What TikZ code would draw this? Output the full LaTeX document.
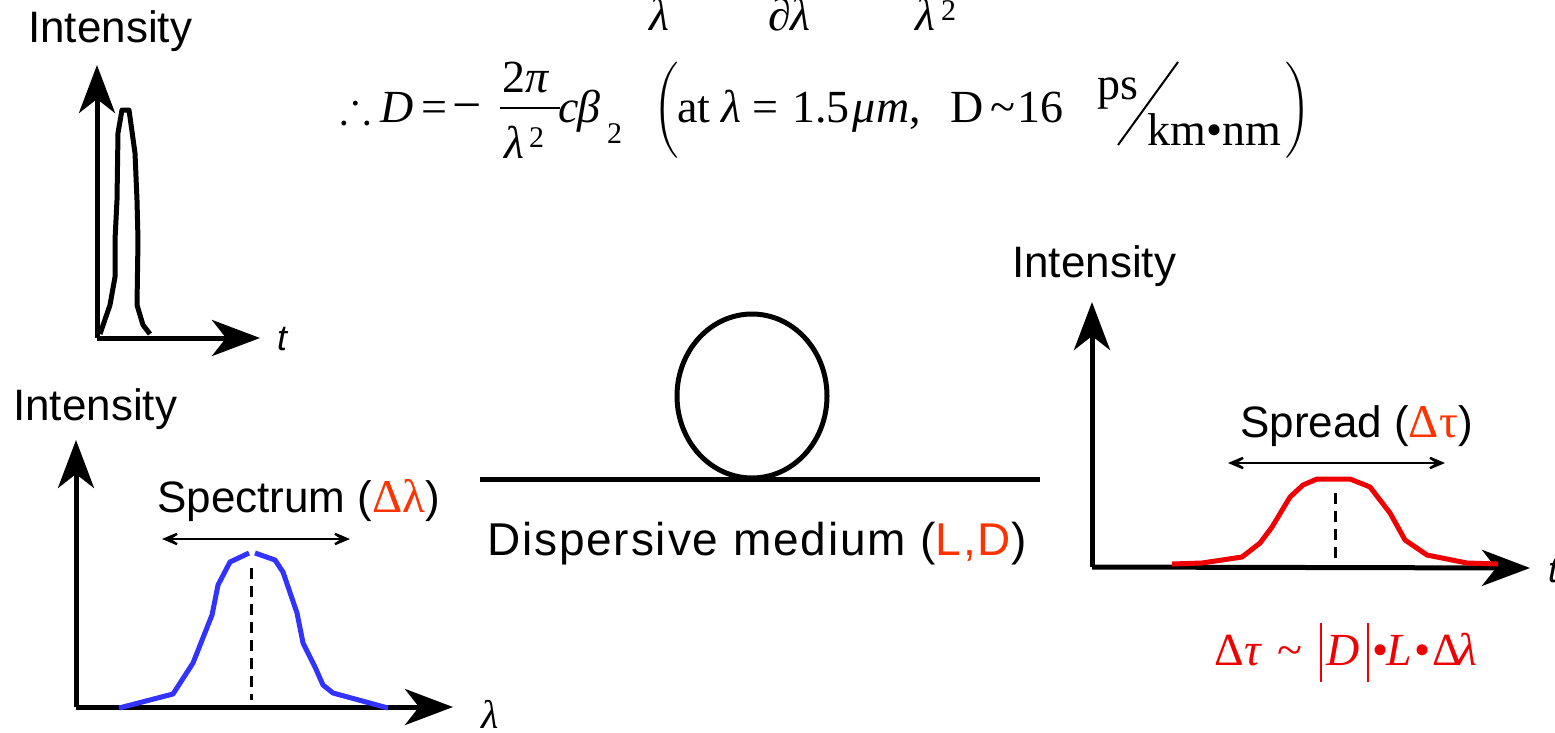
\documentclass[tikz,border=0pt]{standalone}
\usepackage{amssymb}
\usepackage{fontspec}
\setmainfont{Liberation Serif}
\setsansfont{Liberation Sans}
\newfontfamily\medfont[LetterSpace=4]{Liberation Sans}
\usetikzlibrary{arrows.meta}
\definecolor{lblred}{RGB}{255,51,0}
\definecolor{eqred}{RGB}{240,0,0}
\definecolor{pulseblue}{RGB}{51,51,255}
\newcommand{\fs}[1]{\fontsize{#1}{#1}\selectfont}
\begin{document}
\begin{tikzpicture}[x=1pt,y=-1pt,
  axisline/.style={line width=5pt,-{Stealth[length=48pt,width=36pt,inset=14pt]}},
  spanarrow/.style={line width=2.5pt,{Stealth[length=27pt,width=23pt,inset=18pt]}-{Stealth[length=27pt,width=23pt,inset=18pt]}},
  lbl/.style={inner sep=0pt,anchor=base west,font=\sffamily\fs{44}},
  axlbl/.style={inner sep=0pt,anchor=base west,font=\sffamily\itshape\fs{36}},
  eq/.style={inner sep=0pt,anchor=base west,font=\rmfamily\fs{46}},
  eqsup/.style={inner sep=0pt,anchor=base west,font=\rmfamily\fs{30}},
  curve/.style={line width=5pt,line join=round},
  midline/.style={line width=3pt,dash pattern=on 11pt off 7pt},
  bigparen/.style={inner sep=0pt,font=\fs{32}},
]
\useasboundingbox (0,0) rectangle (1555,732);
\clip (0,0) rectangle (1555,732);

% ---------- top-left: short pulse in time ----------
\node[lbl] (int1) at (28,42) {Intensity};
\coordinate (o1) at (97,338);
\coordinate (y1) at (97,65);
\coordinate (x1) at (260,338);
\draw[axisline] (o1) -- (y1);
\draw[axisline] (o1) -- (x1);
\node[axlbl] (t1) at (277,350) {t};
\draw[curve] (100,334) -- (110,305) -- (115,277) -- (115,240) -- (117,200) -- (118,133)
  -- (122,110) -- (129,110) -- (135,153) -- (137,200) -- (138,240) -- (137,305)
  -- (143,325) -- (150,334);

% ---------- formula ----------
% partially visible upper line
\node[eq] (u1) at (649,30) {\textit{λ}};
\node[eq] (u2) at (768,30) {∂\textit{λ}};
\node[eq] (u3) at (915,30) {\textit{λ}};
\node[eqsup] (u4) at (941,20) {2};
% main line
\node[eq] (th) at (340,122) {$\therefore$};
\node[eq] (D1) at (380,122) {\textit{D}};
\node[eq] (eq1) at (421,122) {=};
\node[eq,font=\rmfamily\fs{52}] (mn) at (452,122) {−};
\node[eq] (num) at (502,92) {2\textit{π}};
\coordinate (fr1) at (500,108);
\coordinate (fr2) at (560,108);
\draw[line width=2pt] (fr1) -- (fr2);
\node[eq] (den) at (504,158) {\textit{λ}};
\node[eqsup] (den2) at (529,147) {2};
\node[eq] (cc) at (558,122) {\textit{c}};
\node[eq] (bb) at (577,122) {\textit{β}};
\node[eqsup] (bb2) at (607,143) {2};
\node[bigparen] (lp) at (667,110) {$\left(\vrule height 41pt depth 41pt width 0pt\right.$};
\node[eq] (at) at (677,122) {at};
\node[eq] (lam1) at (721,122) {\textit{λ}};
\node[eq] (eq2) at (752,122) {=};
\node[eq] (onefive) at (792,122) {1.5};
\node[eq] (mu) at (852,122) {\textit{μ}};
\node[eq] (mm) at (876,122) {\textit{m},};
\node[eq] (D2) at (950,122) {D};
\node[eq] (tl) at (990,122) {\textasciitilde};
\node[eq] (sixteen) at (1017,122) {16};
\node[eq] (ps) at (1097,99) {ps};
\coordinate (sl1) at (1118,145);
\coordinate (sl2) at (1178,62);
\draw[line width=2pt] (sl1) -- (sl2);
\node[eq] (kmnm) at (1147,145) {km•nm};
\node[bigparen] (rp) at (1298,110) {$\left.\vrule height 41pt depth 41pt width 0pt\right)$};

% ---------- bottom-left: spectrum ----------
\node[lbl] (int2) at (13,420) {Intensity};
\coordinate (o2) at (76,707);
\coordinate (y2) at (76,440);
\coordinate (x2) at (453,707);
\draw[axisline] (o2) -- (y2);
\draw[axisline] (o2) -- (x2);
\node[eq,font=\rmfamily\itshape\fs{40}] (lamax) at (481,728) {λ};
\node[lbl] (spec) at (157,512) {Spectrum ({\rmfamily\color{lblred}\fs{47}Δλ})};
\coordinate (sa) at (162,539);
\coordinate (sb) at (350,539);
\draw[spanarrow] (sa) -- (sb);
\draw[curve,pulseblue] (119,708) -- (173,694) -- (193,663) -- (212,615) -- (218,585)
  -- (230,562) -- (249,553);
\draw[curve,pulseblue] (255,553) -- (275,560) -- (283,572) -- (297,613) -- (303,643)
  -- (315,667) -- (323,685) -- (333,693) -- (388,708);
\coordinate (c2a) at (251,568);
\coordinate (c2b) at (251,700);
\draw[midline] (c2a) -- (c2b);

% ---------- centre: dispersive medium ----------
\coordinate (f1) at (480,479);
\coordinate (f2) at (1040,479);
\draw[line width=5pt] (f1) -- (f2);
\draw[line width=5pt] (752,396) ellipse [x radius=75pt, y radius=82pt];
\node[inner sep=0pt,anchor=base west,font=\medfont\fs{46}] (disp) at (487,555)
  {Dispersive medium ({\color{lblred}L,D})};

% ---------- right: spread pulse ----------
\node[lbl] (int3) at (1012,277) {Intensity};
\coordinate (o3) at (1092,567);
\coordinate (y3) at (1092,302);
\coordinate (x3) at (1530,568);
\draw[axisline] (o3) -- (y3);
\draw[axisline] (o3) -- (x3);
\node[axlbl] (t3) at (1548,582) {t};
\node[lbl] (spread) at (1240,437) {Spread ({\rmfamily\color{lblred}\fs{47}Δτ})};
\coordinate (ra) at (1228,463);
\coordinate (rb) at (1445,463);
\draw[spanarrow] (ra) -- (rb);
\draw[curve,eqred] (1172,564) -- (1202,563) -- (1242,557) -- (1260,543) -- (1272,527)
  -- (1290,497) -- (1303,485) -- (1317,479) -- (1350,479) -- (1370,487) -- (1390,513)
  -- (1405,540) -- (1427,555) -- (1467,563) -- (1498,564);
\coordinate (c3a) at (1335,493);
\coordinate (c3b) at (1335,563);
\draw[midline] (c3a) -- (c3b);

% ---------- bottom-right formula ----------
\begin{scope}[every node/.append style={text=eqred}]
\node[eq] (d1) at (1214,665) {Δ};
\node[eq] (tau) at (1244,665) {\textit{τ}};
\node[eq] (sim) at (1277,665) {\textasciitilde};
\node[eq] (dd) at (1326,665) {\textit{D}};
\node[eq] (b1) at (1372,665) {•};
\node[eq] (ll) at (1386,665) {\textit{L}};
\node[eq] (b2) at (1414,665) {•};
\node[eq] (d2) at (1432,665) {Δ};
\node[eq] (lam2) at (1457,665) {\textit{λ}};
\end{scope}
\coordinate (v1a) at (1321,623);
\coordinate (v1b) at (1321,682);
\coordinate (v2a) at (1368,623);
\coordinate (v2b) at (1368,682);
\draw[eqred,line width=1.6pt] (v1a) -- (v1b);
\draw[eqred,line width=1.6pt] (v2a) -- (v2b);
\end{tikzpicture}
\end{document}
